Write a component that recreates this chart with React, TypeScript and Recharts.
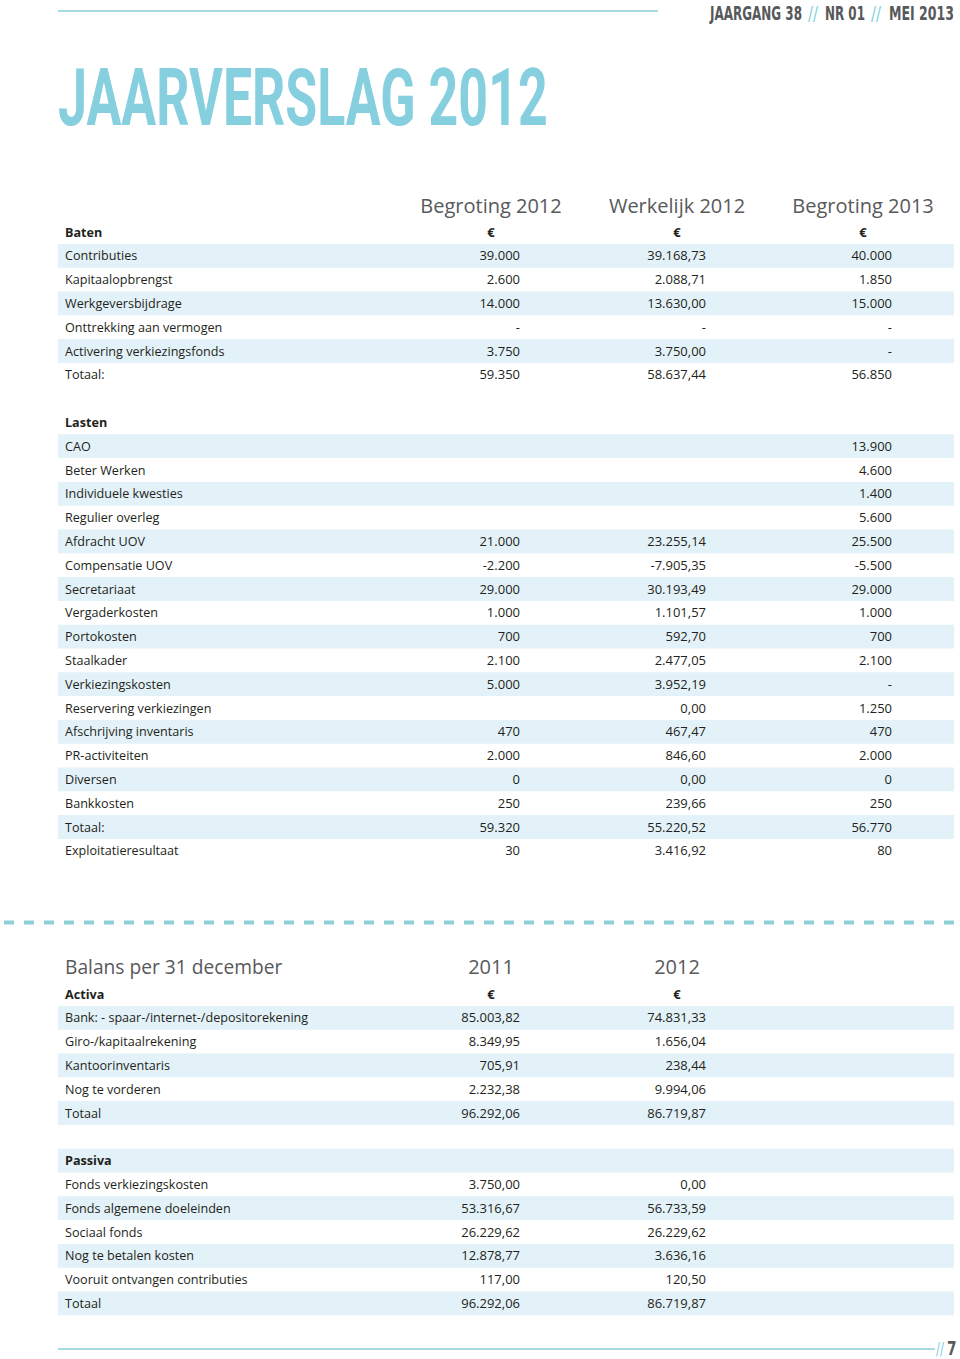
import React from "react";
import { ScatterChart, Scatter, XAxis, YAxis, ReferenceArea } from "recharts";

// ---------- Data: Jaarverslag (budget) ----------
const budgetTitle = "";
const budgetColumns = ["Begroting 2012", "Werkelijk 2012", "Begroting 2013"];
const budgetRows = [
  "Baten",
  "Contributies",
  "Kapitaalopbrengst",
  "Werkgeversbijdrage",
  "Onttrekking aan vermogen",
  "Activering verkiezingsfonds",
  "Totaal:",
  "",
  "Lasten",
  "CAO",
  "Beter Werken",
  "Individuele kwesties",
  "Regulier overleg",
  "Afdracht UOV",
  "Compensatie UOV",
  "Secretariaat",
  "Vergaderkosten",
  "Portokosten",
  "Staalkader",
  "Verkiezingskosten",
  "Reservering verkiezingen",
  "Afschrijving inventaris",
  "PR-activiteiten",
  "Diversen",
  "Bankkosten",
  "Totaal:",
  "Exploitatieresultaat",
];
const budgetHeadings = ["Baten", "Lasten"];
const begroting2012 = [
  "€", "39.000", "2.600", "14.000", "-", "3.750", "59.350", "", "",
  "", "", "", "", "21.000", "-2.200", "29.000", "1.000", "700", "2.100",
  "5.000", "", "470", "2.000", "0", "250", "59.320", "30",
];
const werkelijk2012 = [
  "€", "39.168,73", "2.088,71", "13.630,00", "-", "3.750,00", "58.637,44", "", "",
  "", "", "", "", "23.255,14", "-7.905,35", "30.193,49", "1.101,57", "592,70", "2.477,05",
  "3.952,19", "0,00", "467,47", "846,60", "0,00", "239,66", "55.220,52", "3.416,92",
];
const begroting2013 = [
  "€", "40.000", "1.850", "15.000", "-", "-", "56.850", "", "",
  "13.900", "4.600", "1.400", "5.600", "25.500", "-5.500", "29.000", "1.000", "700", "2.100",
  "-", "1.250", "470", "2.000", "0", "250", "56.770", "80",
];

// ---------- Data: Balans ----------
const balansTitle = "Balans per 31 december";
const balansColumns = ["2011", "2012"];
const balansRows = [
  "Activa",
  "Bank: - spaar-/internet-/depositorekening",
  "Giro-/kapitaalrekening",
  "Kantoorinventaris",
  "Nog te vorderen",
  "Totaal",
  "",
  "Passiva",
  "Fonds verkiezingskosten",
  "Fonds algemene doeleinden",
  "Sociaal fonds",
  "Nog te betalen kosten",
  "Vooruit ontvangen contributies",
  "Totaal",
];
const balansHeadings = ["Activa", "Passiva"];
const balans2011 = [
  "€", "85.003,82", "8.349,95", "705,91", "2.232,38", "96.292,06", "",
  "", "3.750,00", "53.316,67", "26.229,62", "12.878,77", "117,00", "96.292,06",
];
const balans2012 = [
  "€", "74.831,33", "1.656,04", "238,44", "9.994,06", "86.719,87", "",
  "", "0,00", "56.733,59", "26.229,62", "3.636,16", "120,50", "86.719,87",
];

// ---------- Masthead texts ----------
const mastheadParts = ["JAARGANG 38", "//", "NR 01", "//", "MEI 2013"];
const pageTitle = "JAARVERSLAG 2012";
const pageNumber = "7";

// ---------- Styling ----------
const FONT = "'Open Sans', 'Noto Sans', 'DejaVu Sans', sans-serif";
const NARROW = "'Liberation Sans Narrow', 'DejaVu Sans Condensed', 'Liberation Sans', sans-serif";
const TITLE_FONT = "Roboto, 'Liberation Sans', sans-serif";
const TEXT = "#231f20";
const HEAD = "#58595b";
const BLUE = "#86cfdf";
const STRIPE = "#e3f2f8";
const LINE = "#a9d9e0";

const X_MIN = -1.328;
const X_MAX = 3.489;

type Cell = { col: number; row: number; text: string; kind: "label" | "euro" | "value"; bold?: boolean };

function buildCells(rows: string[], headings: string[], columns: string[][]): Cell[] {
  const cells: Cell[] = [];
  rows.forEach((label, r) => {
    cells.push({ col: X_MIN, row: r, text: label, kind: "label", bold: headings.includes(label) });
    columns.forEach((vals, c) => {
      const v = vals[r];
      if (v) cells.push({ col: c + 1, row: r, text: v, kind: v === "€" ? "euro" : "value" });
    });
  });
  return cells;
}

const CellShape = (props: any) => {
  const { cx, cy, payload } = props;
  if (cx == null || cy == null || !payload) return <g />;
  if (payload.kind === "label") {
    return (
      <text x={cx + 7} y={cy} dy="0.36em" textAnchor="start" fontFamily={FONT} fontSize={12.6}
        fontWeight={payload.bold ? 700 : 400} fill={TEXT}>
        {payload.text}
      </text>
    );
  }
  if (payload.kind === "euro") {
    return (
      <text x={cx} y={cy} dy="0.36em" textAnchor="middle" fontFamily={FONT} fontSize={13} fontWeight={700} fill={TEXT}>
        {payload.text}
      </text>
    );
  }
  return (
    <text x={cx + 29} y={cy} dy="0.36em" textAnchor="end" fontFamily={FONT} fontSize={13} fill={TEXT}>
      {payload.text}
    </text>
  );
};

function makeHeaderTick(title: string, columns: string[]) {
  return (props: any) => {
    const { x, y, payload } = props;
    const v = payload.value;
    if (v <= X_MIN + 1e-6) {
      return (
        <text x={x + 7} y={y} textAnchor="start" fontFamily={FONT} fontSize={19.2} fill={HEAD}>
          {title}
        </text>
      );
    }
    return (
      <text x={x} y={y} textAnchor="middle" fontFamily={FONT} fontSize={20} fill={HEAD}>
        {columns[Math.round(v) - 1]}
      </text>
    );
  };
}

type TableProps = {
  top: number;
  height: number;
  marginTop: number;
  marginBottom: number;
  tickMargin: number;
  title: string;
  columns: string[];
  rows: string[];
  headings: string[];
  values: string[][];
};

const Table = (p: TableProps) => {
  const cells = buildCells(p.rows, p.headings, p.values);
  const ticks = [X_MIN, ...p.columns.map((_, i) => i + 1)];
  const striped = p.rows.map((label, i) => i % 2 === 1 && label !== "");
  return (
    <div style={{ position: "absolute", left: 0, top: p.top }}>
      <ScatterChart
        width={960}
        height={p.height}
        margin={{ top: p.marginTop, right: 6, left: 58, bottom: p.marginBottom }}
      >
        <XAxis
          type="number"
          dataKey="col"
          orientation="top"
          domain={[X_MIN, X_MAX]}
          ticks={ticks}
          interval={0}
          height={30}
          axisLine={false}
          tickLine={false}
          tickSize={0}
          tickMargin={p.tickMargin}
          tick={makeHeaderTick(p.title, p.columns)}
          allowDataOverflow
        />
        <YAxis
          type="number"
          dataKey="row"
          domain={[-0.5, p.rows.length - 0.5]}
          reversed
          hide
          allowDataOverflow
        />
        {striped.map((s, i) =>
          s ? (
            <ReferenceArea key={i} y1={i - 0.5} y2={i + 0.5} fill={STRIPE} fillOpacity={1} stroke="none" ifOverflow="visible" />
          ) : null
        )}
        <Scatter data={cells} shape={CellShape} isAnimationActive={false} />
      </ScatterChart>
    </div>
  );
};

// start x and target width of each masthead piece
const mastheadStarts = [710, 808, 825, 871, 889];
const mastheadWidths = [92, 10, 40, 10, 65];
const MAST_SCALE = 0.72;

const Decorations = () => (
  <svg width={960} height={1359} style={{ position: "absolute", left: 0, top: 0 }}>
    <line x1={58} x2={658} y1={11} y2={11} stroke={LINE} strokeWidth={2} />
    {mastheadParts.map((t, i) => (
      <g key={i} transform={`translate(${mastheadStarts[i]},20) scale(${MAST_SCALE},1)`}>
        <text x={0} y={0} textAnchor="start" fontFamily={NARROW}
          fontWeight={t === "//" ? 400 : 700} fontSize={19} fill={t === "//" ? BLUE : HEAD}
          textLength={mastheadWidths[i] / MAST_SCALE} lengthAdjust="spacingAndGlyphs">
          {t}
        </text>
      </g>
    ))}
    <g transform="translate(58,125) scale(0.66,1)">
      <text x={0} y={0} fontFamily={TITLE_FONT} fontWeight={700} fontSize={80} fill={BLUE}
        textLength={742} lengthAdjust="spacingAndGlyphs">
        {pageTitle}
      </text>
    </g>
    <line x1={4} x2={956} y1={922.5} y2={922.5} stroke="#8dd0da" strokeWidth={4} strokeDasharray="10 10" />
    <line x1={58} x2={935} y1={1349} y2={1349} stroke={LINE} strokeWidth={2} />
    <g transform="translate(936,1355) scale(0.72,1)">
      <text x={0} y={0} textAnchor="start" fontFamily={NARROW} fontWeight={400} fontSize={18} fill={BLUE}>
        //
      </text>
    </g>
    <g transform="translate(947,1355) scale(0.8,1)">
      <text x={0} y={0} textAnchor="start" fontFamily={NARROW} fontWeight={700} fontSize={19} fill={HEAD}>
        {pageNumber}
      </text>
    </g>
  </svg>
);

export default function App() {
  return (
    <div style={{ position: "absolute", left: 0, top: 0, width: 960, height: 1359, background: "#fff", overflow: "hidden" }}>
      <Decorations />
      <Table
        top={0}
        height={873}
        marginTop={190.1}
        marginBottom={10.3}
        tickMargin={7}
        title={budgetTitle}
        columns={budgetColumns}
        rows={budgetRows}
        headings={budgetHeadings}
        values={[begroting2012, werkelijk2012, begroting2013]}
      />
      <Table
        top={940}
        height={1330 - 940}
        marginTop={12.1}
        marginBottom={390 - 12.1 - 30 - 333.2}
        tickMargin={8}
        title={balansTitle}
        columns={balansColumns}
        rows={balansRows}
        headings={balansHeadings}
        values={[balans2011, balans2012]}
      />
    </div>
  );
}
